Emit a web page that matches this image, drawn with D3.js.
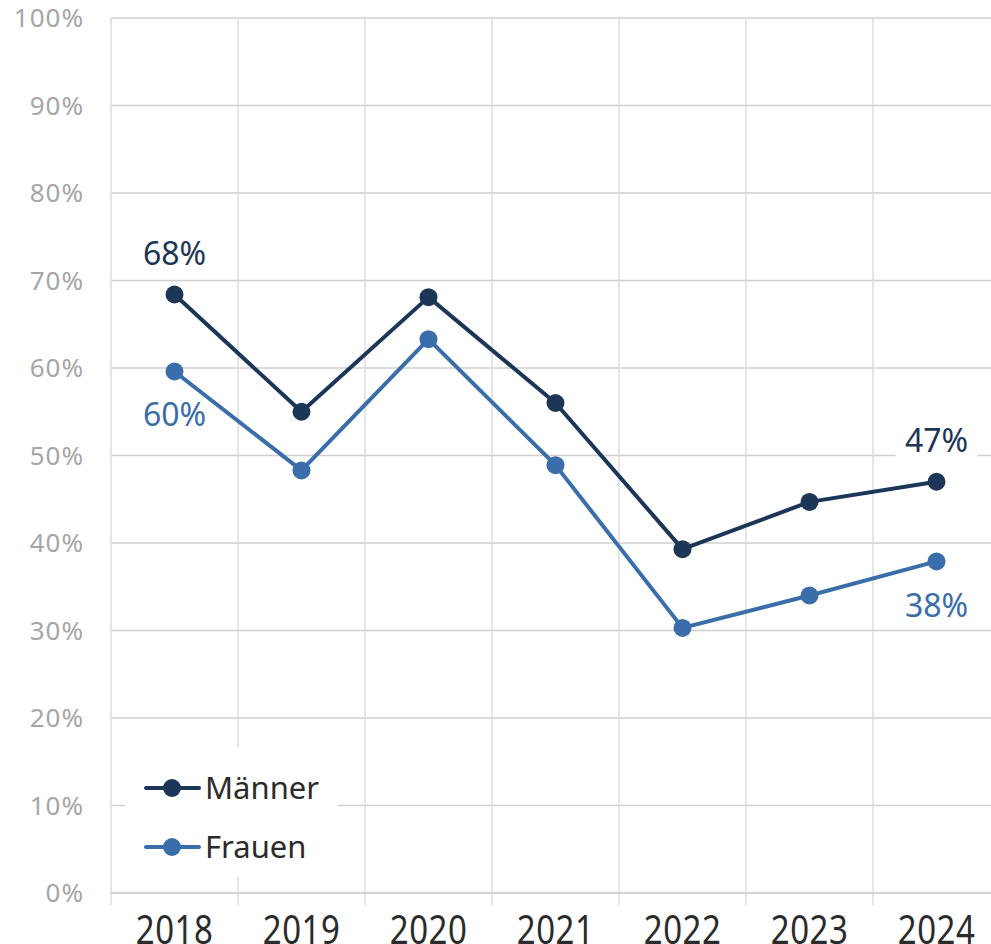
<!DOCTYPE html>
<html>
<head>
<meta charset="utf-8">
<script src="https://cdn.jsdelivr.net/npm/d3@7"></script>
<style>
  body { margin: 0; background: #fff; }
  svg { display: block; font-family: "Noto Sans", sans-serif; }
</style>
</head>
<body>
<div id="chart"></div>
<script>
// data
const years = ["2018", "2019", "2020", "2021", "2022", "2023", "2024"];
const maenner = [68.4, 55.0, 68.1, 56.0, 39.3, 44.7, 47.0];
const frauen = [59.6, 48.3, 63.3, 48.9, 30.3, 34.0, 37.9];
const yTicks = [0, 10, 20, 30, 40, 50, 60, 70, 80, 90, 100];
const seriesNames = ["Männer", "Frauen"];
const colors = ["#1c3658", "#3a6eab"];

const W = 991, H = 944;
const margin = {top: 18, left: 111, bottom: 51};
const plotW = 889; // runs past the right edge of the picture
const plotH = H - margin.top - margin.bottom;

const svg = d3.select("#chart").append("svg")
    .attr("width", W)
    .attr("height", H);

const x = d3.scaleBand().domain(years).range([margin.left, margin.left + plotW]);
const y = d3.scaleLinear().domain([0, 100]).range([margin.top + plotH, margin.top]);

// horizontal gridlines
svg.append("g")
    .selectAll("line")
    .data(yTicks)
    .join("line")
    .attr("x1", margin.left).attr("x2", W)
    .attr("y1", d => y(d)).attr("y2", d => y(d))
    .attr("stroke", "#cfcfcf")
    .attr("stroke-width", 1.5);

// vertical gridlines at category boundaries (+ ticks under the axis)
const bounds = years.map(d => x(d)).concat([x(years[years.length - 1]) + x.bandwidth()]);
svg.append("g")
    .selectAll("line")
    .data(bounds)
    .join("line")
    .attr("x1", d => d).attr("x2", d => d)
    .attr("y1", margin.top).attr("y2", y(0) + 12)
    .attr("stroke", "#dcdcdc")
    .attr("stroke-width", 1.5);

// x axis line
svg.append("line")
    .attr("x1", margin.left).attr("x2", W)
    .attr("y1", y(0)).attr("y2", y(0))
    .attr("stroke", "#cfcfcf")
    .attr("stroke-width", 1.5);

// y tick labels
svg.append("g")
    .selectAll("text")
    .data(yTicks)
    .join("text")
    .attr("x", 84)
    .attr("y", d => y(d))
    .attr("dy", "0.36em")
    .attr("text-anchor", "end")
    .attr("fill", "#a6a6a6")
    .style("font-size", "26px")
    .style("letter-spacing", "1px")
    .text(d => d + "%");

// x labels (cut by the bottom edge, as in the original)
svg.append("g")
    .selectAll("text")
    .data(years)
    .join("text")
    .attr("transform", d => `translate(${x(d) + x.bandwidth() / 2},944) scale(1,1.2)`)
    .attr("text-anchor", "middle")
    .attr("fill", "#2b2b2b")
    .style("font-size", "33px")
    .style("letter-spacing", "0.5px")
    .text(d => d);

// lines + markers
const cx = d => x(d) + x.bandwidth() / 2;
[maenner, frauen].forEach((vals, i) => {
    const pts = years.map((yr, j) => [cx(yr), y(vals[j])]);
    svg.append("path")
        .attr("d", d3.line()(pts))
        .attr("fill", "none")
        .attr("stroke", colors[i])
        .attr("stroke-width", 4)
        .attr("stroke-linejoin", "round");
    svg.append("g")
        .selectAll("circle")
        .data(pts)
        .join("circle")
        .attr("cx", d => d[0]).attr("cy", d => d[1])
        .attr("r", 9)
        .attr("fill", colors[i]);
});

// data labels (first and last point)
const labels = [
    {s: 0, j: 0, dy: -41, bg: false},
    {s: 1, j: 0, dy: 43, bg: false},
    {s: 0, j: 6, dy: -41, bg: true},
    {s: 1, j: 6, dy: 44, bg: false}
];
labels.forEach(l => {
    const vals = l.s === 0 ? maenner : frauen;
    const px = cx(years[l.j]), py = y(vals[l.j]) + l.dy;
    const txt = Math.round(vals[l.j]) + "%";
    if (l.bg) {
        svg.append("rect")
            .attr("x", px - 41).attr("y", py - 18)
            .attr("width", 82).attr("height", 36)
            .attr("fill", "#fff");
    }
    svg.append("text")
        .attr("x", px).attr("y", py)
        .attr("dy", "0.36em")
        .attr("text-anchor", "middle")
        .attr("fill", colors[l.s])
        .style("font-size", "32px")
        .text(txt);
});

// legend
const lg = svg.append("g");
lg.append("rect")
    .attr("x", 125).attr("y", 747)
    .attr("width", 213).attr("height", 130)
    .attr("fill", "#fff");
seriesNames.forEach((name, i) => {
    const ly = 788 + i * 59;
    lg.append("line")
        .attr("x1", 146).attr("x2", 199)
        .attr("y1", ly).attr("y2", ly)
        .attr("stroke", colors[i])
        .attr("stroke-width", 4)
        .attr("stroke-linecap", "round");
    lg.append("circle")
        .attr("cx", 172).attr("cy", ly)
        .attr("r", 9)
        .attr("fill", colors[i]);
    lg.append("text")
        .attr("x", 205).attr("y", ly)
        .attr("dy", "0.36em")
        .attr("fill", "#2b2b2b")
        .style("font-size", "31px")
        .text(name);
});
</script>
</body>
</html>
